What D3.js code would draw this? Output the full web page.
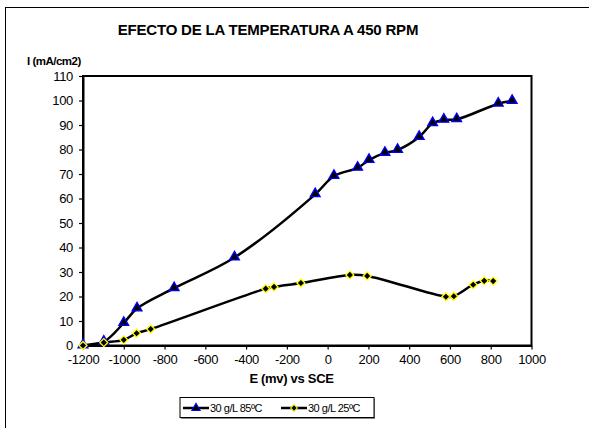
<!DOCTYPE html>
<html>
<head>
<meta charset="utf-8">
<script src="https://cdn.jsdelivr.net/npm/d3@7"></script>
<style>
  body { margin: 0; background: #fff; }
  svg { display: block; font-family: "Liberation Sans", Arial, sans-serif; }
</style>
</head>
<body>
<div id="chart"></div>
<script>
(function () {
    'use strict';

    // 30 g/L 85ºC
    var e85 = [-1200, -1098, -1000, -935, -753, -457, -61, 31, 147, 203, 281, 343, 449, 515, 570, 633, 837, 905];
    var i85 = [0, 1.5, 9.2, 15.1, 23.4, 35.9, 61.7, 69.2, 72.5, 75.7, 78.6, 79.8, 85.1, 90.7, 92.1, 92.3, 98.7, 99.8];

    // 30 g/L 25ºC
    var e25 = [-1200, -1098, -1000, -937, -868, -304, -263, -131, 109, 194, 580, 619, 714, 768, 812];
    var i25 = [0, 1.2, 2.3, 5, 6.7, 23.2, 23.9, 25.5, 28.8, 28.4, 19.9, 20.1, 24.8, 26.4, 26.3];

    var xTicks = [-1200, -1000, -800, -600, -400, -200, 0, 200, 400, 600, 800, 1000];
    var yTicks = [0, 10, 20, 30, 40, 50, 60, 70, 80, 90, 100, 110];
    var seriesNames = ['30 g/L 85ºC', '30 g/L 25ºC'];

    var width = 589, height = 428;
    var margin = { left: 83, right: 57.5, top: 76, bottom: 82.5 };

    var svg = d3.select('#chart').append('svg')
        .attr('width', width)
        .attr('height', height);

    // outer chart frame (runs past right/bottom edges)
    svg.append('rect')
        .attr('x', 5.5).attr('y', 7.5)
        .attr('width', 620).attr('height', 460)
        .attr('fill', 'none').attr('stroke', '#000').attr('stroke-width', 1);

    var x = d3.scaleLinear()
        .domain([-1200, 1000])
        .range([margin.left, width - margin.right]);

    var y = d3.scaleLinear()
        .domain([0, 110])
        .range([height - margin.bottom, margin.top]);

    // plot box
    svg.append('rect')
        .attr('x', x(-1200)).attr('y', y(110))
        .attr('width', x(1000) - x(-1200)).attr('height', y(0) - y(110))
        .attr('fill', 'none').attr('stroke', '#000').attr('stroke-width', 2);

    var fmt = function (d) { return String(d); };

    var xAxis = svg.append('g')
        .attr('transform', 'translate(0,' + y(0) + ')')
        .call(d3.axisBottom(x).tickValues(xTicks).tickFormat(fmt).tickSize(4).tickPadding(5).tickSizeOuter(0));

    var yAxis = svg.append('g')
        .attr('transform', 'translate(' + x(-1200) + ',0)')
        .call(d3.axisLeft(y).tickValues(yTicks).tickFormat(fmt).tickSize(4).tickPadding(6).tickSizeOuter(0));

    [xAxis, yAxis].forEach(function (ax) {
        ax.select('.domain').attr('stroke-width', 2);
        ax.selectAll('.tick line').attr('stroke-width', 1.2);
        ax.selectAll('.tick text')
            .style('font-size', '13px')
            .style('letter-spacing', '-0.3px')
            .style('font-family', '"Liberation Sans", Arial, sans-serif')
            .attr('fill', '#000');
    });

    var line = d3.line()
        .x(function (d) { return x(d[0]); })
        .y(function (d) { return y(d[1]); })
        .curve(d3.curveCatmullRom.alpha(0.5));

    var data85 = d3.zip(e85, i85);
    var data25 = d3.zip(e25, i25);

    svg.append('path').datum(data85)
        .attr('d', line)
        .attr('fill', 'none').attr('stroke', '#000').attr('stroke-width', 2.5);

    svg.append('path').datum(data25)
        .attr('d', line)
        .attr('fill', 'none').attr('stroke', '#000').attr('stroke-width', 2.5);

    var tri = d3.symbol().type(d3.symbolTriangle).size(42);
    var dia = d3.symbol().type(d3.symbolSquare).size(32);

    svg.selectAll('.m85').data(data85).enter().append('path')
        .attr('class', 'm85')
        .attr('transform', function (d) { return 'translate(' + x(d[0]) + ',' + (y(d[1]) - 0.5) + ')'; })
        .attr('d', tri)
        .attr('fill', '#000').attr('stroke', '#0000ff').attr('stroke-width', 1.3);

    svg.selectAll('.m25').data(data25).enter().append('path')
        .attr('class', 'm25')
        .attr('transform', function (d) { return 'translate(' + x(d[0]) + ',' + y(d[1]) + ') rotate(45)'; })
        .attr('d', dia)
        .attr('fill', '#000').attr('stroke', '#ffff00').attr('stroke-width', 1.3);

    // titles
    svg.append('text')
        .attr('x', 268).attr('y', 35)
        .attr('text-anchor', 'middle')
        .style('font-size', '15px').style('font-weight', 'bold')
        .style('letter-spacing', '-0.2px')
        .text('EFECTO DE LA TEMPERATURA A 450 RPM');

    svg.append('text')
        .attr('x', 27).attr('y', 65)
        .style('font-size', '11.5px').style('font-weight', 'bold')
        .style('letter-spacing', '-0.5px')
        .text('I (mA/cm2)');

    svg.append('text')
        .attr('x', 291.5).attr('y', 383)
        .attr('text-anchor', 'middle')
        .style('font-size', '13px').style('font-weight', 'bold')
        .style('letter-spacing', '-0.3px')
        .text('E (mv) vs SCE');

    // legend
    var lg = svg.append('g').attr('transform', 'translate(180,397.5)');
    lg.append('rect')
        .attr('x', 1).attr('y', 1).attr('width', 194).attr('height', 20.5)
        .attr('fill', '#888');
    lg.append('rect')
        .attr('width', 194).attr('height', 20)
        .attr('fill', '#fff').attr('stroke', '#000').attr('stroke-width', 1);

    var items = [
        { name: seriesNames[0], sym: tri, stroke: '#0000ff', x0: 3, rot: 0 },
        { name: seriesNames[1], sym: dia, stroke: '#ffff00', x0: 101, rot: 45 }
    ];
    items.forEach(function (it) {
        var g = lg.append('g').attr('transform', 'translate(' + it.x0 + ',10.5)');
        g.append('line').attr('x1', 0).attr('x2', 26).attr('y1', 0).attr('y2', 0)
            .attr('stroke', '#000').attr('stroke-width', 2.5);
        g.append('path').attr('d', it.sym)
            .attr('transform', 'translate(13,0) scale(0.85) rotate(' + it.rot + ')')
            .attr('fill', '#000').attr('stroke', it.stroke).attr('stroke-width', 1.2);
        g.append('text').attr('x', 27).attr('y', 4)
            .style('font-size', '11px').style('letter-spacing', '-0.5px')
            .text(it.name);
    });
})();
</script>
</body>
</html>
